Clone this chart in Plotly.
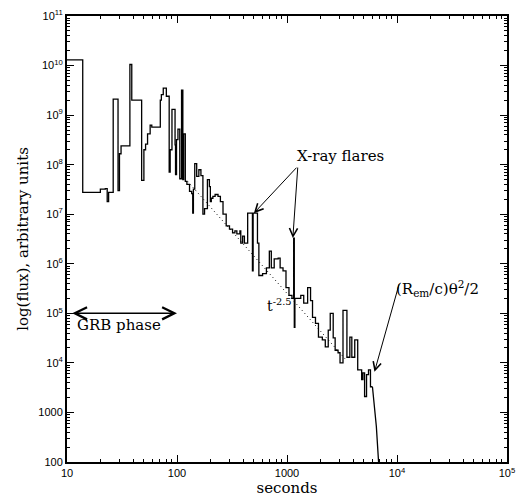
import math
import plotly.graph_objects as go

# ---- data ----
t_steps = [10, 13.9, 20.1, 22.3, 23.2, 23.9, 26.3, 29.1, 30.0, 31.0, 37.3, 38.8, 47.7, 50.0,
           51.8, 54, 57, 59, 70.5, 72.1, 75, 80, 84.9, 86.7, 90, 96, 97, 99, 102, 106, 110,
           113, 115, 119, 123, 130, 136, 139, 141, 145, 151, 158, 165, 172, 178, 189, 197,
           201, 205, 212, 222, 236, 248, 262, 280, 300, 320, 336, 350, 373, 380, 395, 410,
           439, 485, 492, 539, 555, 600, 650, 691, 720, 765, 831, 866, 920, 979, 1042, 1109,
           1150, 1165, 1180, 1253, 1334, 1419, 1540, 1637, 1706, 1815, 1932, 2095, 2229,
           2371, 2472, 2630, 2740, 2912, 3035, 3229, 3505, 3727, 3884, 4130, 4394, 4771,
           4900, 5073, 5286, 5508, 5739, 5980]
flux_steps = [1.3e10, 2.75e7, 3.2e7, 3.3e7, 1.8e7, 2.75e7, 2.1e9, 3.0e7, 1.66e8, 2.4e8,
              1.05e10, 2.0e9, 4.8e7, 2.0e8, 2.6e8, 4.2e8, 6.3e8, 5.7e8, 2.0e9, 2.6e9, 3.5e9,
              2.4e9, 7.1e7, 2.0e8, 1.3e9, 2.5e8, 6.3e7, 3.2e8, 5.2e8, 5.2e7, 3.2e9, 5.0e7,
              4.2e8, 4.6e7, 4.0e7, 2.9e7, 2.6e7, 1.05e7, 3.2e7, 1.05e8, 5.8e7, 7.9e7, 6.0e7,
              1.0e7, 1.3e7, 5.0e7, 3.6e7, 1.8e7, 2.1e7, 2.3e7, 2.5e7, 2.3e7, 1.8e7, 1.0e7,
              5.8e6, 5.0e6, 4.2e6, 4.6e6, 4.0e6, 4.6e6, 2.6e6, 3.6e6, 2.6e6, 1.05e7, 7.2e5,
              1.05e7, 2.6e6, 5.8e5, 6.3e5, 8.3e5, 1.8e6, 8.3e5, 1.26e6, 1.3e6, 8.3e5, 7.2e5,
              3.3e5, 2.3e5, 2.0e5, 3.3e6, 5.2e4, 2.0e5, 2.0e5, 2.3e5, 1.6e5, 3.3e5, 1.8e5,
              8.3e4, 6.3e4, 3.3e4, 2.9e4, 2.1e4, 4.6e4, 1.0e5, 3.2e4, 1.8e4, 1.6e4, 1.0e4,
              1.15e5, 1.3e4, 3.3e4, 1.3e4, 2.9e4, 7.2e3, 4.6e3, 6.3e3, 2.1e3, 5.8e3, 7.2e3,
              3.3e3, 3.3e3]
t_decay = [5980, 6300, 6490, 6800, 7000]
flux_decay = [3.3e3, 1.0e3, 5.2e2, 1.0e2, 5.0e1]
t_fit = [125, 3500]
flux_fit = [4.6e7, 1.1e4]

x_tickvals = [10, 100, 1000, 1e4, 1e5]
x_ticktext = ["10", "100", "1000", "10<sup>4</sup>", "10<sup>5</sup>"]
y_tickvals = [1e2, 1e3, 1e4, 1e5, 1e6, 1e7, 1e8, 1e9, 1e10, 1e11]
y_ticktext = ["100", "1000", "10<sup>4</sup>", "10<sup>5</sup>", "10<sup>6</sup>",
              "10<sup>7</sup>", "10<sup>8</sup>", "10<sup>9</sup>", "10<sup>10</sup>",
              "10<sup>11</sup>"]

# annotation anchors (data units)
flare1 = (500, 1.05e7)
flare2 = (1130, 3.3e6)
cutoff = (6240, 6.6e3)
L = math.log10

SERIF = "DejaVu Serif"

fig = go.Figure()
fig.add_trace(go.Scatter(x=t_steps, y=flux_steps, mode="lines", line_shape="hv",
                         line=dict(color="black", width=1.3), showlegend=False))
fig.add_trace(go.Scatter(x=t_decay, y=flux_decay, mode="lines",
                         line=dict(color="black", width=1.3), showlegend=False))
fig.add_trace(go.Scatter(x=t_fit, y=flux_fit, mode="lines",
                         line=dict(color="black", width=1, dash="1px,3px"), showlegend=False))

axis_common = dict(
    type="log", showline=True, linecolor="black", linewidth=2, mirror="ticks",
    ticks="inside", ticklen=7, tickwidth=1, tickcolor="black", showgrid=False,
    zeroline=False, tickmode="array",
    tickfont=dict(family="Liberation Sans", size=11, color="black"),
    minor=dict(ticks="inside", ticklen=3, tickwidth=1, tickcolor="black",
               dtick="D1", showgrid=False),
)

fig.update_xaxes(**axis_common, range=[1, 5], tickvals=x_tickvals, ticktext=x_ticktext,
                 title=dict(text="seconds", font=dict(family=SERIF, size=15, color="black"),
                            standoff=2))
fig.update_yaxes(**axis_common, range=[2, 11], tickvals=y_tickvals, ticktext=y_ticktext,
                 title=dict(text="log(flux), arbitrary units",
                            font=dict(family=SERIF, size=15, color="black"), standoff=6))

anns = [
    dict(x=L(flare1[0]), y=L(flare1[1]), ax=44, ay=-47, text="", showarrow=True,
         arrowhead=5, arrowsize=1.6, arrowwidth=1, arrowcolor="black"),
    dict(x=L(flare2[0]), y=L(flare2[1]), ax=5, ay=-72, text="", showarrow=True,
         arrowhead=5, arrowsize=1.6, arrowwidth=1, arrowcolor="black"),
    dict(x=L(1130) + 0.02, y=L(1.5e8), text="X-ray flares", showarrow=False,
         xanchor="left", yanchor="middle",
         font=dict(family=SERIF, size=15, color="black")),
    dict(x=L(100), y=L(1e5), ax=L(10.8), ay=L(1e5), axref="x", ayref="y", text="",
         showarrow=True, arrowhead=5, startarrowhead=5, arrowside="end+start",
         arrowsize=1.6, startarrowsize=1.6, arrowwidth=1.5, arrowcolor="black"),
    dict(x=L(30), y=L(5.8e4), text="GRB phase", showarrow=False,
         xanchor="center", yanchor="middle",
         font=dict(family=SERIF, size=15, color="black")),
    dict(x=L(cutoff[0]), y=L(cutoff[1]), ax=25, ay=-89, text="", showarrow=True,
         arrowhead=5, arrowsize=1.6, arrowwidth=1, arrowcolor="black"),
    dict(x=L(cutoff[0]) + 0.18, y=L(3.2e5), text="(R<sub>em</sub>/c)θ<sup>2</sup>/2",
         showarrow=False, xanchor="left", yanchor="middle",
         font=dict(family=SERIF, size=15, color="black")),
    dict(x=L(850), y=L(1.45e5), text="t<sup>-2.5</sup>", showarrow=False,
         xanchor="center", yanchor="middle",
         font=dict(family=SERIF, size=14, color="black")),
]
fig.update_layout(
    width=523, height=500,
    margin=dict(l=67, r=8, t=13, b=38),
    paper_bgcolor="white", plot_bgcolor="white",
    annotations=anns,
)
fig.write_html("out.html")
